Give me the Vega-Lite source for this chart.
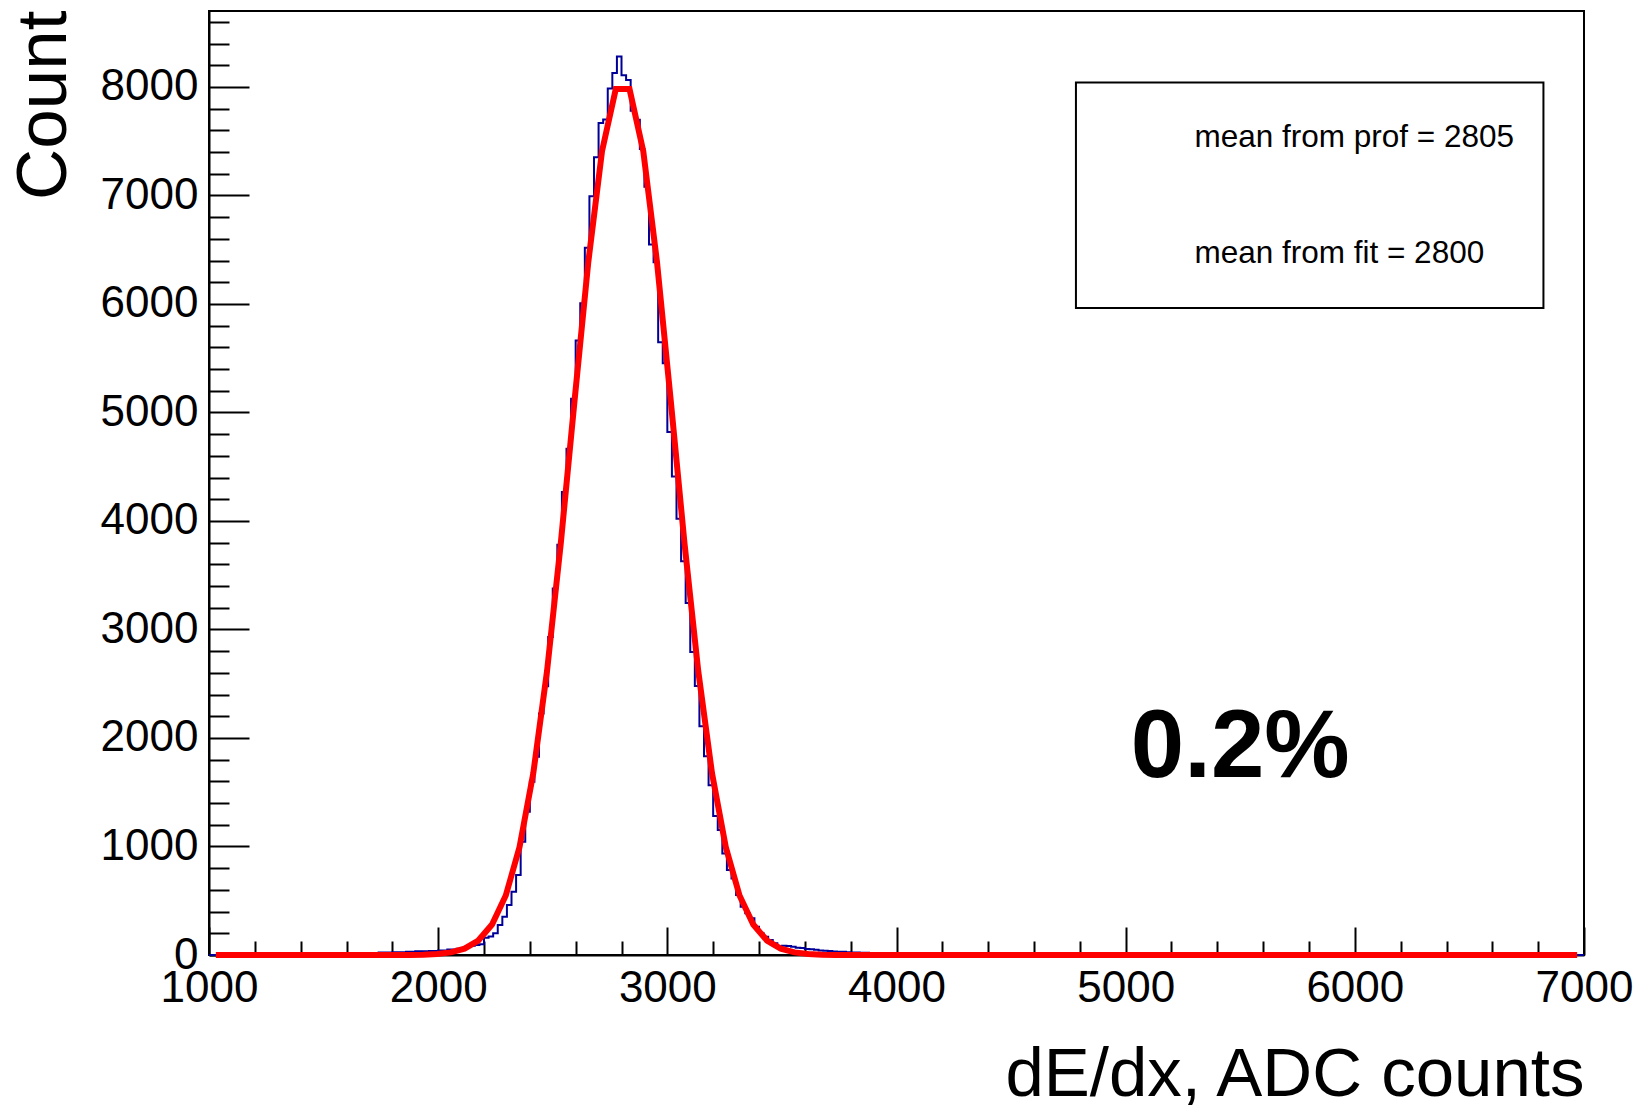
{
  "$schema": "https://vega.github.io/schema/vega-lite/v6.json",
  "width": 1375,
  "height": 944,
  "autosize": {"type": "none"},
  "padding": {"left": 209, "top": 11, "right": 56, "bottom": 152},
  "background": "white",
  "config": {
    "font": "Liberation Sans",
    "view": {"stroke": "black", "strokeWidth": 2},
    "axis": {"grid": false, "domainColor": "black", "domainWidth": 2, "tickColor": "black", "tickWidth": 2, "labelColor": "black", "titleColor": "black", "labelFont": "Liberation Sans", "titleFont": "Liberation Sans", "titleFontWeight": "normal"}
  },
  "resolve": {"axis": {"x": "independent", "y": "independent"}},
  "datasets": {
    "hist": [
      {"x": 1000, "y": 0}, {"x": 1500, "y": 5}, {"x": 1560, "y": 12}, {"x": 1620, "y": 15}, {"x": 1680, "y": 18}, {"x": 1740, "y": 22}, {"x": 1800, "y": 25}, {"x": 1860, "y": 30}, {"x": 1900, "y": 35}, {"x": 1960, "y": 38}, {"x": 2000, "y": 42}, {"x": 2040, "y": 50}, {"x": 2080, "y": 58}, {"x": 2100, "y": 65}, {"x": 2120, "y": 78}, {"x": 2140, "y": 85}, {"x": 2160, "y": 92}, {"x": 2180, "y": 100},
      {"x": 2200, "y": 160}, {"x": 2220, "y": 170}, {"x": 2240, "y": 200}, {"x": 2260, "y": 276}, {"x": 2280, "y": 353}, {"x": 2300, "y": 460}, {"x": 2320, "y": 583}, {"x": 2340, "y": 737}, {"x": 2360, "y": 1043}, {"x": 2380, "y": 1320},
      {"x": 2400, "y": 1596}, {"x": 2420, "y": 1826}, {"x": 2440, "y": 2226}, {"x": 2460, "y": 2477}, {"x": 2480, "y": 2931}, {"x": 2500, "y": 3377}, {"x": 2520, "y": 3782}, {"x": 2540, "y": 4266}, {"x": 2560, "y": 4666}, {"x": 2580, "y": 5126},
      {"x": 2600, "y": 5663}, {"x": 2620, "y": 6006}, {"x": 2640, "y": 6519}, {"x": 2660, "y": 6992}, {"x": 2680, "y": 7351}, {"x": 2700, "y": 7668}, {"x": 2720, "y": 7701}, {"x": 2740, "y": 7986}, {"x": 2760, "y": 8128}, {"x": 2780, "y": 8281},
      {"x": 2800, "y": 8109}, {"x": 2820, "y": 8063}, {"x": 2840, "y": 7781}, {"x": 2860, "y": 7698}, {"x": 2880, "y": 7428}, {"x": 2900, "y": 7081}, {"x": 2920, "y": 6547}, {"x": 2940, "y": 6384}, {"x": 2960, "y": 5647}, {"x": 2980, "y": 5454},
      {"x": 3000, "y": 4819}, {"x": 3020, "y": 4411}, {"x": 3040, "y": 4021}, {"x": 3060, "y": 3628}, {"x": 3080, "y": 3244}, {"x": 3100, "y": 2793}, {"x": 3120, "y": 2480}, {"x": 3140, "y": 2109}, {"x": 3160, "y": 1832}, {"x": 3180, "y": 1565},
      {"x": 3200, "y": 1280}, {"x": 3220, "y": 1151}, {"x": 3240, "y": 936}, {"x": 3260, "y": 783}, {"x": 3280, "y": 706}, {"x": 3300, "y": 552}, {"x": 3320, "y": 445}, {"x": 3340, "y": 384}, {"x": 3360, "y": 338}, {"x": 3380, "y": 261},
      {"x": 3400, "y": 200}, {"x": 3420, "y": 169}, {"x": 3440, "y": 138}, {"x": 3460, "y": 108}, {"x": 3480, "y": 80}, {"x": 3500, "y": 86}, {"x": 3520, "y": 84}, {"x": 3540, "y": 75}, {"x": 3560, "y": 67}, {"x": 3580, "y": 64},
      {"x": 3600, "y": 55}, {"x": 3620, "y": 52}, {"x": 3640, "y": 48}, {"x": 3660, "y": 42}, {"x": 3680, "y": 40}, {"x": 3700, "y": 37}, {"x": 3720, "y": 33}, {"x": 3740, "y": 31}, {"x": 3760, "y": 29}, {"x": 3780, "y": 26},
      {"x": 3800, "y": 22}, {"x": 3840, "y": 20}, {"x": 3880, "y": 16}, {"x": 3940, "y": 14}, {"x": 4000, "y": 12}, {"x": 4100, "y": 10}, {"x": 4200, "y": 8}, {"x": 4300, "y": 7}, {"x": 4400, "y": 5}, {"x": 4600, "y": 3}, {"x": 4800, "y": 2}, {"x": 5000, "y": 0}, {"x": 7000, "y": 0}
    ],
    "fit": [
      {"x": 1030, "y": 0}, {"x": 1875, "y": 1}, {"x": 1935, "y": 3}, {"x": 1995, "y": 9}, {"x": 2055, "y": 24}, {"x": 2115, "y": 59}, {"x": 2175, "y": 133}, {"x": 2235, "y": 281}, {"x": 2295, "y": 548}, {"x": 2355, "y": 994}, {"x": 2415, "y": 1674}, {"x": 2475, "y": 2615}, {"x": 2535, "y": 3793}, {"x": 2595, "y": 5107}, {"x": 2655, "y": 6384}, {"x": 2715, "y": 7408}, {"x": 2775, "y": 7980},
      {"x": 2835, "y": 7980}, {"x": 2895, "y": 7408}, {"x": 2955, "y": 6384}, {"x": 3015, "y": 5107}, {"x": 3075, "y": 3793}, {"x": 3135, "y": 2615}, {"x": 3195, "y": 1674}, {"x": 3255, "y": 994}, {"x": 3315, "y": 548}, {"x": 3375, "y": 281}, {"x": 3435, "y": 133}, {"x": 3495, "y": 59}, {"x": 3555, "y": 24}, {"x": 3615, "y": 9}, {"x": 3675, "y": 3}, {"x": 3735, "y": 1}, {"x": 6970, "y": 0}
    ],
    "box": [{"x": 4783, "x2": 6823, "y": 5962, "y2": 8042}],
    "legend": [
      {"x": 5300, "y": 7532, "label": "mean from prof = 2805"},
      {"x": 5300, "y": 6464, "label": "mean from fit = 2800"}
    ],
    "big": [{"x": 5500, "y": 1640, "label": "0.2%"}]
  },
  "layer": [
    {
      "data": {"name": "hist"},
      "mark": {"type": "line", "interpolate": "step-after", "color": "#000099", "strokeWidth": 2},
      "encoding": {
        "x": {
          "field": "x", "type": "quantitative",
          "scale": {"domain": [1000, 7000], "nice": false, "zero": false},
          "axis": {
            "orient": "bottom",
            "title": "dE/dx, ADC counts",
            "values": [1000, 2000, 3000, 4000, 5000, 6000, 7000],
            "format": "d",
            "tickSize": -28,
            "labelFontSize": 44,
            "labelPadding": 39,
            "labelBaseline": "top",
            "labelOverlap": false,
            "labelFlush": false,
            "labelBound": false,
            "titleFontSize": 69,
            "titleAlign": "right",
            "titleAnchor": "end",
            "titleBaseline": "alphabetic",
            "titleX": 1375,
            "titleY": 140
          }
        },
        "y": {
          "field": "y", "type": "quantitative",
          "scale": {"domain": [0, 8700], "nice": false},
          "axis": {
            "orient": "left",
            "title": "Count",
            "values": [0, 1000, 2000, 3000, 4000, 5000, 6000, 7000, 8000],
            "format": "d",
            "tickSize": -40,
            "labelFontSize": 44,
            "labelPadding": 51,
            "labelBaseline": "middle",
            "labelAlign": "right",
            "labelOverlap": false,
            "labelFlush": false,
            "labelBound": false,
            "titleFontSize": 71,
            "titleAngle": -90,
            "titleAlign": "right",
            "titleAnchor": "end",
            "titleBaseline": "alphabetic",
            "titleX": -144,
            "titleY": -1
          }
        }
      }
    },
    {
      "data": {"name": "fit"},
      "mark": {"type": "line", "color": "#ff0000", "strokeWidth": 6, "strokeCap": "butt", "strokeJoin": "miter"},
      "encoding": {
        "x": {"field": "x", "type": "quantitative", "axis": {"orient": "bottom", "title": null, "labels": false, "domain": false, "tickSize": -14, "values": [1200, 1400, 1600, 1800, 2200, 2400, 2600, 2800, 3200, 3400, 3600, 3800, 4200, 4400, 4600, 4800, 5200, 5400, 5600, 5800, 6200, 6400, 6600, 6800]}},
        "y": {"field": "y", "type": "quantitative", "axis": {"orient": "left", "title": null, "labels": false, "domain": false, "tickSize": -20, "values": [200, 400, 600, 800, 1200, 1400, 1600, 1800, 2200, 2400, 2600, 2800, 3200, 3400, 3600, 3800, 4200, 4400, 4600, 4800, 5200, 5400, 5600, 5800, 6200, 6400, 6600, 6800, 7200, 7400, 7600, 7800, 8200, 8400, 8600]}}
      }
    },
    {
      "data": {"name": "box"},
      "mark": {"type": "rect", "fill": "white", "stroke": "black", "strokeWidth": 2},
      "encoding": {
        "x": {"field": "x", "type": "quantitative", "axis": null},
        "x2": {"field": "x2"},
        "y": {"field": "y", "type": "quantitative", "axis": null},
        "y2": {"field": "y2"}
      }
    },
    {
      "data": {"name": "legend"},
      "mark": {"type": "text", "align": "left", "baseline": "middle", "fontSize": 31.5, "color": "black", "font": "Liberation Sans"},
      "encoding": {
        "x": {"field": "x", "type": "quantitative", "axis": null},
        "y": {"field": "y", "type": "quantitative", "axis": null},
        "text": {"field": "label"}
      }
    },
    {
      "data": {"name": "big"},
      "mark": {"type": "text", "align": "center", "baseline": "alphabetic", "fontSize": 96, "fontWeight": "bold", "color": "black", "font": "Liberation Sans"},
      "encoding": {
        "x": {"field": "x", "type": "quantitative", "axis": null},
        "y": {"field": "y", "type": "quantitative", "axis": null},
        "text": {"field": "label"}
      }
    }
  ]
}
